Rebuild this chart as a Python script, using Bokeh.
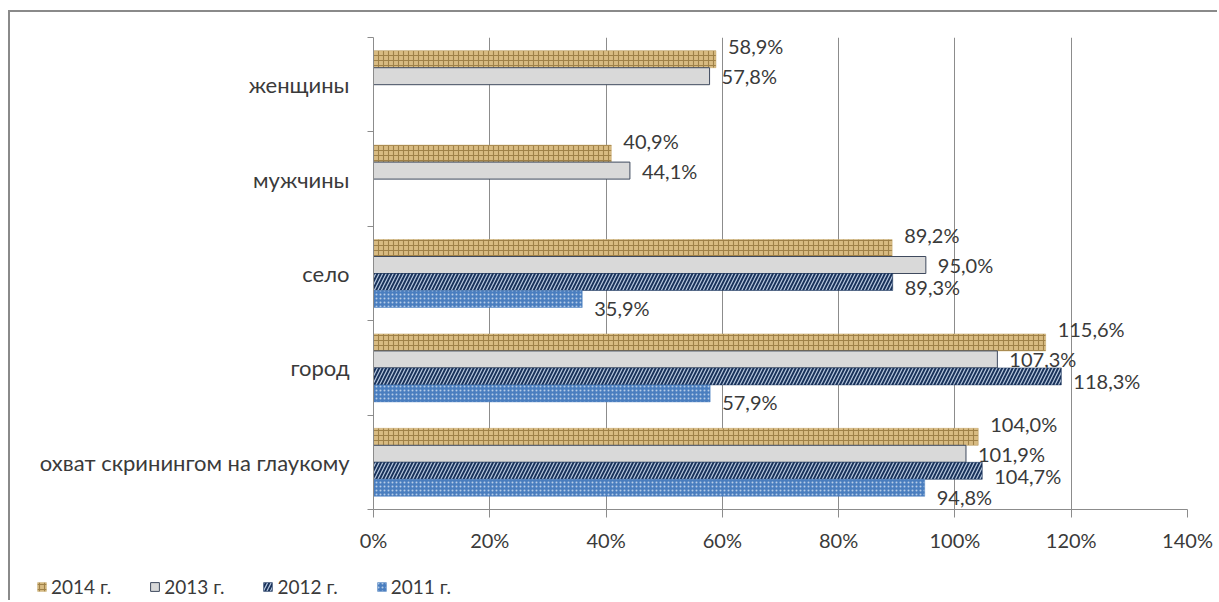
from bokeh.plotting import figure
from bokeh.models import (ColumnDataSource, Range1d, FixedTicker, PrintfTickFormatter,
                          Legend, LegendItem)
from bokeh.core.properties import value
from bokeh.embed import file_html
from bokeh.resources import INLINE

# ---- data ----
categories = ["охват скринингом на глаукому", "город", "село", "мужчины", "женщины"]
years = ["2014 г.", "2013 г.", "2012 г.", "2011 г."]
v2014 = [104.0, 115.6, 89.2, 40.9, 58.9]
v2013 = [101.9, 107.3, 95.0, 44.1, 57.8]
v2012 = [104.7, 118.3, 89.3, None, None]
v2011 = [94.8, 57.9, 35.9, None, None]
x_ticks = [0, 20, 40, 60, 80, 100, 120, 140]

series_values = [v2014, v2013, v2012, v2011]

# ---- styles ----
FONT = "Lato"
TXT = "#3a3a3a"
GRID = "#8c8c8c"
bar_h = 0.18
dodges = [0.27, 0.09, -0.09, -0.27]
label_dy = [-13, 0, 5, 9]
styles = [
    dict(fill_color="#d8bb82", line_color="#c4a66a", line_width=0.5, hatch_pattern="+",
         hatch_color="#7a5a22", hatch_scale=5, hatch_weight=1.1, hatch_alpha=0.6),
    dict(fill_color="#d9d9d9", line_color="#3f4a5e", line_width=1),
    dict(fill_color="#19325a", line_color="#19325a", line_width=0.5, hatch_pattern="/",
         hatch_color="#b9c9e0", hatch_scale=7, hatch_weight=1.2),
    dict(fill_color="#4a7ebf", line_color="#4a7ebf", line_width=0.5, hatch_pattern=".",
         hatch_color="#e6eef8", hatch_scale=4, hatch_weight=0.7, hatch_alpha=0.7),
]

p = figure(width=1209, height=548, output_backend="svg", toolbar_location=None,
           x_range=Range1d(0, 140), y_range=Range1d(0, len(categories)),
           min_border_left=363, min_border_right=32, min_border_top=25, min_border_bottom=51)
p.outline_line_color = None
p.background_fill_color = "white"
p.border_fill_color = "white"
p.styles = {"margin-left": "8px", "margin-top": "10px",
            "border-top": "2px solid #8a8a8a", "border-left": "2px solid #8a8a8a"}

for si, (vals, st) in enumerate(zip(series_values, styles)):
    ys, xs, labs = [], [], []
    for ci, v in enumerate(vals):
        if v is None:
            continue
        ys.append(ci + 0.5 + dodges[si])
        xs.append(v)
        labs.append(f"{v:.1f}".replace(".", ",") + "%")
    src = ColumnDataSource(dict(y=ys, right=xs, lab=labs))
    p.hbar(y="y", right="right", left=0, height=bar_h, source=src, **st)
    p.text(x="right", y="y", text="lab", source=src, x_offset=12, y_offset=label_dy[si],
           text_font=value(FONT), text_font_size="20px", text_color=TXT,
           text_align="left", text_baseline="middle")

# x axis
p.xaxis.ticker = FixedTicker(ticks=x_ticks)
p.xaxis.formatter = PrintfTickFormatter(format="%d%%")
p.xaxis.axis_line_color = GRID
p.xaxis.major_tick_line_color = GRID
p.xaxis.major_tick_out = 8
p.xaxis.major_tick_in = 0
p.xaxis.minor_tick_line_color = None
p.xaxis.major_label_text_font = FONT
p.xaxis.major_label_text_font_size = "20px"
p.xaxis.major_label_text_color = TXT
p.xaxis.major_label_standoff = 10

# y axis: labels at category centres, ticks at boundaries
centers = [i + 0.5 for i in range(len(categories))]
bounds = list(range(len(categories) + 1))
p.yaxis.ticker = FixedTicker(ticks=centers, minor_ticks=bounds)
p.yaxis.major_label_overrides = {c: name for c, name in zip(centers, categories)}
p.yaxis.axis_line_color = GRID
p.yaxis.major_tick_line_color = None
p.yaxis.minor_tick_line_color = GRID
p.yaxis.minor_tick_out = 6
p.yaxis.minor_tick_in = 0
p.yaxis.major_label_text_font = FONT
p.yaxis.major_label_text_font_size = "22px"
p.yaxis.major_label_text_color = TXT
p.yaxis.major_label_standoff = 18

p.xgrid.grid_line_color = GRID
p.xgrid.ticker = FixedTicker(ticks=x_ticks)
p.ygrid.grid_line_color = None

# ---- legend strip below the chart (separate root, so frames are not aligned) ----
lf = figure(width=1209, height=42, output_backend="svg", toolbar_location=None,
            x_range=Range1d(0, 1), y_range=Range1d(0, 1),
            min_border=0, min_border_left=0, min_border_right=0,
            min_border_top=0, min_border_bottom=0)
lf.axis.visible = False
lf.grid.visible = False
lf.outline_line_color = None
lf.border_fill_color = "white"
lf.background_fill_color = "white"
lf.styles = {"margin-left": "8px", "border-left": "2px solid #8a8a8a"}
legend_items = []
for yr, st in zip(years, styles):
    # legend proxy glyph, placed outside the visible range
    r = lf.hbar(y=[-5], right=[0], left=0, height=0.5, **st)
    legend_items.append(LegendItem(label=yr, renderers=[r]))
legend = Legend(items=legend_items, orientation="horizontal", location=(26, 2),
                label_text_font=FONT, label_text_font_size="19px", label_text_color=TXT,
                glyph_width=11, glyph_height=11, label_standoff=4, spacing=38,
                padding=0, margin=0, border_line_color=None, background_fill_alpha=0)
lf.add_layout(legend, "center")

open("out.html", "w").write(file_html([p, lf], INLINE))
